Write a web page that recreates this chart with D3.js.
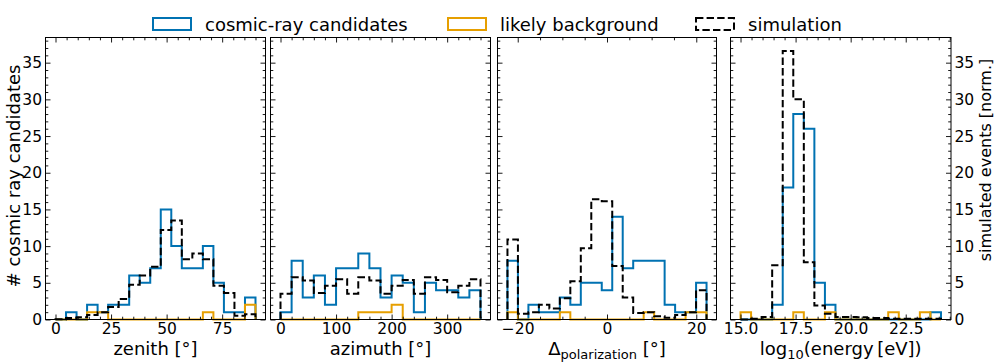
<!DOCTYPE html>
<html><head><meta charset="utf-8">
<script src="https://cdn.jsdelivr.net/npm/d3@7"></script>
<style>
body{margin:0;background:#fff}
svg{display:block}
text{font-family:"DejaVu Sans",sans-serif}
</style>
</head><body>
<svg id="chart" width="996" height="363"></svg>
<script>
// ---------------- data ----------------
const seriesNames = ["cosmic-ray candidates", "likely background", "simulation"];

const zenithRange = [0, 90];
const zenithCR  = [0,1,0,2,1,2,2,6,5,7,15,10,7,7,10,5,1,1,3];
const zenithBG  = [0,0,0,1,1,0,0,0,0,0,0,0,0,0,1,0,0,0,2];
const zenithSim = [0.05,0.2,0.3,0.6,1.0,1.7,2.8,4.75,6.0,7.2,12.2,13.5,8.2,9.0,8.2,4.6,3.6,0.5,0.7];
const zenithTicks = [0,25,50,75];

const azimuthRange = [0, 360];
const azimuthCR  = [1,8,3,6,2,7,7,9,7,3,6,5,1,5,4,4,3,4];
const azimuthBG  = [0,0,0,0,0,0,0,1,1,1,2,0,0,0,0,0,0,0];
const azimuthSim = [3.5,5.75,5.3,3.6,4.6,5.5,3.5,5.75,5.3,3.5,4.6,5.4,3.5,5.75,5.4,3.7,4.6,5.5];
const azimuthTicks = [0,100,200,300];

const polRange = [-22.3, 22.3];
const polCR  = [8,0,2,1,1,3,2,5,5,4,14,7,8,8,8,2,1,1,5];
const polBG  = [1,0,0,0,0,1,0,0,0,0,0,0,0,1,0,0,0,1,1];
const polSim = [10.9,0.8,1.0,2.0,1.5,2.9,5.2,9.7,16.4,16.1,7.3,3.0,0.9,1.0,0.45,0.25,0.6,1.0,4.0];
const polTicks = [-20,0,20];

const energyRange = [15.0, 24.1];
const energyCR  = [0,0,0,2,18,28,26,5,2,0,0,0,0,0,0,0,0,0,1];
const energyBG  = [1,0,0,0,0,1,0,0,1,0,0,0,0,0,1,0,0,1,0];
const energySim = [0,0.1,0.35,7.4,36.6,30,7.8,1.9,0.8,0.35,0.35,0.3,0.2,0.2,0.1,0.1,0.1,0.1,0.1];
const energyTicks = [15.0,17.5,20.0,22.5];

const yTicks = [0,5,10,15,20,25,30,35];

// ---------------- layout ----------------
const colors = ["#0072B2", "#E69F00", "#000000"];
const plotTop = 37.5, plotBottom = 319.5;
const panels = [
  {range: zenithRange, cr: zenithCR, bg: zenithBG, sim: zenithSim, ticks: zenithTicks, minor: 5, fmt: d3.format("d"), x0: 45.5, x1: 265.5},
  {range: azimuthRange, cr: azimuthCR, bg: azimuthBG, sim: azimuthSim, ticks: azimuthTicks, minor: 20, fmt: d3.format("d"), x0: 270.5, x1: 490.5},
  {range: polRange, cr: polCR, bg: polBG, sim: polSim, ticks: polTicks, minor: 5, fmt: d3.format("d"), x0: 497.5, x1: 716.5},
  {range: energyRange, cr: energyCR, bg: energyBG, sim: energySim, ticks: energyTicks, minor: 0.5, fmt: d3.format(".1f"), x0: 730.5, x1: 951}
];

const allMax = d3.max(panels, p => d3.max([...p.cr, ...p.bg, ...p.sim]));
const y = d3.scaleLinear().domain([0, allMax * 1.05]).range([plotBottom, plotTop]);

const svg = d3.select("#chart");
const tickFont = 15.5;

function styleAxis(g) {
  g.attr("font-size", tickFont).attr("font-family", "DejaVu Sans").attr("color", "#000");
  g.select(".domain").remove();
  g.selectAll(".tick line").attr("stroke-width", 0.9);
}

panels.forEach((p, i) => {
  const [lo, hi] = p.range;
  const pad = 0.05 * (hi - lo);
  const x = d3.scaleLinear().domain([lo - pad, hi + pad]).range([p.x0, p.x1]);
  const n = p.cr.length;
  const edges = d3.range(n + 1).map(k => lo + (hi - lo) * k / n);
  const g = svg.append("g");

  const [dlo, dhi] = x.domain();
  const minorX = d3.range(Math.ceil(dlo / p.minor) * p.minor, dhi, p.minor)
    .filter(v => !p.ticks.some(t => Math.abs(t - v) < 1e-9));
  const minorY = d3.range(0, y.domain()[1], 1).filter(v => v % 5 !== 0);

  const stepPath = vals => {
    const pts = [[edges[0], 0]];
    vals.forEach((v, k) => { pts.push([edges[k], v]); pts.push([edges[k + 1], v]); });
    pts.push([edges[n], 0]);
    return d3.line().x(d => x(d[0])).y(d => y(d[1]))(pts);
  };

  g.append("path").attr("d", stepPath(p.cr)).attr("fill", "none")
    .attr("stroke", colors[0]).attr("stroke-width", 2);
  g.append("path").attr("d", stepPath(p.bg)).attr("fill", "none")
    .attr("stroke", colors[1]).attr("stroke-width", 2);
  g.append("path").attr("d", stepPath(p.sim)).attr("fill", "none")
    .attr("stroke", colors[2]).attr("stroke-width", 2).attr("stroke-dasharray", "7.4,3.2");

  // x axes
  g.append("g").attr("transform", `translate(0,${plotBottom})`)
    .call(d3.axisBottom(x).tickValues(p.ticks).tickFormat(p.fmt).tickSize(-5).tickPadding(3)).call(styleAxis);
  g.append("g").attr("transform", `translate(0,${plotBottom})`)
    .call(d3.axisBottom(x).tickValues(minorX).tickFormat("").tickSize(-2.8)).call(styleAxis);
  g.append("g").attr("transform", `translate(0,${plotTop})`)
    .call(d3.axisTop(x).tickValues(p.ticks).tickFormat("").tickSize(-5)).call(styleAxis);
  g.append("g").attr("transform", `translate(0,${plotTop})`)
    .call(d3.axisTop(x).tickValues(minorX).tickFormat("").tickSize(-2.8)).call(styleAxis);

  // y axes
  g.append("g").attr("transform", `translate(${p.x0},0)`)
    .call(d3.axisLeft(y).tickValues(yTicks).tickFormat(i === 0 ? d3.format("d") : "").tickSize(-5).tickPadding(3.5)).call(styleAxis);
  g.append("g").attr("transform", `translate(${p.x0},0)`)
    .call(d3.axisLeft(y).tickValues(minorY).tickFormat("").tickSize(-2.8)).call(styleAxis);
  g.append("g").attr("transform", `translate(${p.x1},0)`)
    .call(d3.axisRight(y).tickValues(yTicks).tickFormat(i === 3 ? d3.format("d") : "").tickSize(-5).tickPadding(3.5)).call(styleAxis);
  g.append("g").attr("transform", `translate(${p.x1},0)`)
    .call(d3.axisRight(y).tickValues(minorY).tickFormat("").tickSize(-2.8)).call(styleAxis);

  g.append("rect").attr("x", p.x0).attr("y", plotTop).attr("width", p.x1 - p.x0).attr("height", plotBottom - plotTop)
    .attr("fill", "none").attr("stroke", "#000").attr("stroke-width", 1);
  p.cx = (p.x0 + p.x1) / 2;
});

// x axis labels
const labelY = 355;
const lf = 18;
svg.append("text").attr("x", panels[0].cx).attr("y", labelY).attr("text-anchor", "middle").attr("font-size", lf).text("zenith [°]");
svg.append("text").attr("x", panels[1].cx).attr("y", labelY).attr("text-anchor", "middle").attr("font-size", lf).text("azimuth [°]");
const t3 = svg.append("text").attr("x", panels[2].cx).attr("y", labelY).attr("text-anchor", "middle").attr("font-size", lf);
t3.append("tspan").text("Δ");
t3.append("tspan").attr("font-size", 13).attr("dy", 4).text("polarization");
t3.append("tspan").attr("dy", -4).text(" [°]");
const t4 = svg.append("text").attr("x", panels[3].cx).attr("y", labelY).attr("text-anchor", "middle").attr("font-size", lf);
t4.append("tspan").text("log");
t4.append("tspan").attr("font-size", 13).attr("dy", 4).text("10");
t4.append("tspan").attr("dy", -4).text("(energy\u2009[eV])");

// y axis labels
svg.append("text").attr("transform", `translate(20,176) rotate(-90)`).attr("text-anchor", "middle")
  .attr("font-size", lf).text("# cosmic ray candidates");
svg.append("text").attr("transform", `translate(991,160) rotate(-90)`).attr("text-anchor", "middle")
  .attr("font-size", 16).text("simulated events [norm.]");

// legend
const legendX = [153, 448, 696];
const legend = svg.append("g");
seriesNames.forEach((name, k) => {
  legend.append("rect").attr("x", legendX[k]).attr("y", 18).attr("width", 38).attr("height", 12)
    .attr("fill", "none").attr("stroke", colors[k]).attr("stroke-width", 2)
    .attr("stroke-dasharray", k === 2 ? "7.4,3.2" : null);
  legend.append("text").attr("x", legendX[k] + 52).attr("y", 31).attr("font-size", lf).text(name);
});
</script>
</body></html>
